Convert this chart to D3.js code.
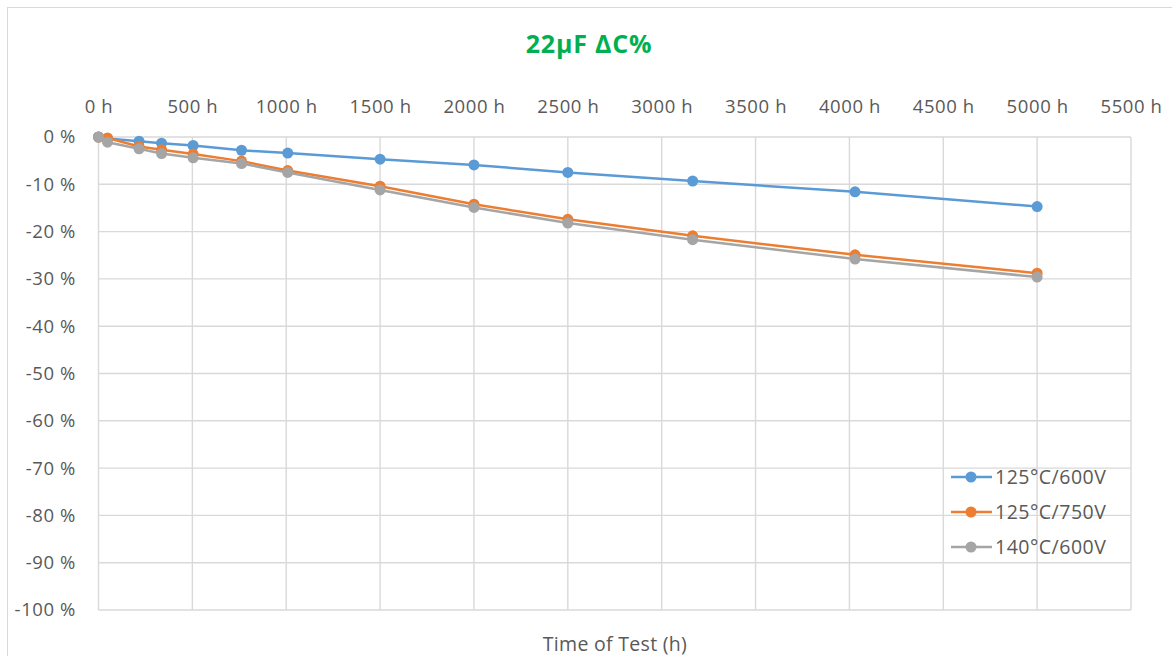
<!DOCTYPE html>
<html>
<head>
<meta charset="utf-8">
<script src="https://cdn.jsdelivr.net/npm/d3@7"></script>
<style>
  html, body { margin: 0; padding: 0; background: #fff; }
  svg { display: block; }
  text { font-family: "Open Sans", "Noto Sans", sans-serif; }
</style>
</head>
<body>
<svg id="chart" width="1172" height="656"></svg>
<script>
const title = "22µF ΔC%";
const xAxisTitle = "Time of Test (h)";
const hours = [0, 48, 216, 336, 504, 762, 1008, 1500, 2000, 2500, 3165, 4030, 5000];
const seriesNames = ["125°C/600V", "125°C/750V", "140°C/600V"];
const blue600 = [0, -0.3, -0.9, -1.3, -1.8, -2.8, -3.4, -4.7, -5.9, -7.5, -9.3, -11.6, -14.7];
const orange750 = [0, -0.2, -2.0, -2.7, -3.6, -5.1, -7.1, -10.4, -14.2, -17.4, -20.9, -24.9, -28.8];
const gray140 = [0, -1.1, -2.5, -3.5, -4.4, -5.6, -7.5, -11.2, -14.9, -18.2, -21.7, -25.8, -29.6];
const seriesColors = ["#5B9BD5", "#ED7D31", "#A5A5A5"];
const xTicks = [0, 500, 1000, 1500, 2000, 2500, 3000, 3500, 4000, 4500, 5000, 5500];
const yTicks = [0, -10, -20, -30, -40, -50, -60, -70, -80, -90, -100];

const svg = d3.select("#chart");
const margin = { left: 98.5, right: 1131, top: 137, bottom: 610 };

// chart frame
svg.append("rect").attr("x", 7.5).attr("y", 7.5).attr("width", 1180).attr("height", 700)
  .attr("fill", "none").attr("stroke", "#D9D9D9").attr("stroke-width", 1);

const x = d3.scaleLinear().domain([0, 5500]).range([margin.left, margin.right]);
const y = d3.scaleLinear().domain([0, -100]).range([margin.top, margin.bottom]);

// gridlines
const grid = svg.append("g");
grid.selectAll("line.v").data(xTicks).join("line")
  .attr("x1", d => x(d)).attr("x2", d => x(d))
  .attr("y1", y(0)).attr("y2", y(-100))
  .attr("stroke", "#D9D9D9").attr("stroke-width", 1.4);
grid.selectAll("line.h").data(yTicks).join("line")
  .attr("x1", x(0)).attr("x2", x(5500))
  .attr("y1", d => y(d)).attr("y2", d => y(d))
  .attr("stroke", "#D9D9D9").attr("stroke-width", 1.4);

// top x axis labels
const xAxis = d3.axisTop(x).tickValues(xTicks).tickFormat(d => d + " h").tickSize(0).tickPadding(0);
const gx = svg.append("g").attr("transform", `translate(0, 113)`).call(xAxis);
gx.select(".domain").remove();
gx.selectAll("text").attr("font-size", 18.5).attr("fill", "#595959")
  .attr("letter-spacing", 0.6)
  .attr("font-family", "'Open Sans', 'Noto Sans', sans-serif").attr("dy", 0);

// left y axis labels
const yAxis = d3.axisLeft(y).tickValues(yTicks).tickFormat(d => d + " %").tickSize(0).tickPadding(0);
const gy = svg.append("g").attr("transform", `translate(76, 0)`).call(yAxis);
gy.select(".domain").remove();
gy.selectAll("text").attr("font-size", 18.5).attr("fill", "#595959")
  .attr("letter-spacing", 0.6)
  .attr("font-family", "'Open Sans', 'Noto Sans', sans-serif");

// title
svg.append("text").attr("x", 589).attr("y", 53).attr("text-anchor", "middle")
  .attr("font-size", 25).attr("font-weight", "bold").attr("fill", "#00B050")
  .attr("letter-spacing", 0.8).text(title);

// x axis title
svg.append("text").attr("x", 615).attr("y", 651).attr("text-anchor", "middle")
  .attr("font-size", 19.5).attr("fill", "#595959").attr("letter-spacing", 0.3).text(xAxisTitle);

// series
const allSeries = [blue600, orange750, gray140];
const line = d3.line().x(d => x(d[0])).y(d => y(d[1]));
allSeries.forEach((vals, i) => {
  const pts = hours.map((h, j) => [h, vals[j]]);
  const g = svg.append("g");
  g.append("path").datum(pts).attr("d", line).attr("fill", "none")
    .attr("stroke", seriesColors[i]).attr("stroke-width", 2.5).attr("stroke-linejoin", "round");
  g.selectAll("circle").data(pts).join("circle")
    .attr("cx", d => x(d[0])).attr("cy", d => y(d[1])).attr("r", 5.5)
    .attr("fill", seriesColors[i]);
});

// legend
const legend = svg.append("g");
seriesNames.forEach((name, i) => {
  const ly = 477 + i * 35;
  legend.append("line").attr("x1", 951).attr("x2", 992).attr("y1", ly).attr("y2", ly)
    .attr("stroke", seriesColors[i]).attr("stroke-width", 2.5);
  legend.append("circle").attr("cx", 971).attr("cy", ly).attr("r", 5.5).attr("fill", seriesColors[i]);
  legend.append("text").attr("x", 995).attr("y", ly + 7).attr("font-size", 19.5)
    .attr("letter-spacing", 0.5)
    .attr("fill", "#595959").text(name);
});
</script>
</body>
</html>
